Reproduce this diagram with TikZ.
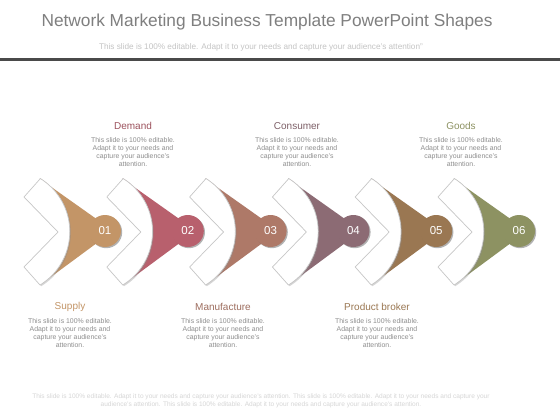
\documentclass[tikz,border=0pt]{standalone}
\usepackage{fontspec}
\setmainfont{Liberation Sans}
\usetikzlibrary{shadows}
\definecolor{c1}{HTML}{C39567}
\definecolor{c2}{HTML}{B8606D}
\definecolor{c3}{HTML}{AE7968}
\definecolor{c4}{HTML}{8C6B74}
\definecolor{c5}{HTML}{9A7752}
\definecolor{c6}{HTML}{8D9262}
\definecolor{titlegray}{HTML}{7F7F7F}
\definecolor{subgray}{HTML}{C4C4C4}
\definecolor{bodygray}{HTML}{8E8E8E}
\definecolor{footgray}{HTML}{D6D6D6}
\definecolor{rulegray}{HTML}{4A4A4A}
\tikzset{
  chev/.style={fill=white, draw=black!22, line width=0.7pt, line join=round,
    drop shadow={shadow xshift=1.2pt, shadow yshift=-1.2pt, opacity=0.35, fill=black!45}},
  numcirc/.style={circle, minimum size=32pt, inner sep=0pt, text=white,
    font=\fontsize{11.5}{12}\selectfont,
    drop shadow={shadow xshift=1.2pt, shadow yshift=-1.2pt, opacity=0.5, fill=black!60}},
  headtxt/.style={font=\fontsize{10}{12}\selectfont, inner sep=0pt},
  bodytxt/.style={font=\fontsize{6.9}{8.3}\selectfont, text=bodygray, align=center, inner sep=0pt},
}
\begin{document}
\begin{tikzpicture}[x=1pt,y=-1pt]
\useasboundingbox[fill=white] (0,0) rectangle (560,420);
% header
\node[font=\fontsize{17.3}{20}\selectfont, text=titlegray, inner sep=0pt] (title) at (267,22) {Network Marketing Business Template PowerPoint Shapes};
\node[font=\fontsize{8.2}{9}\selectfont, text=subgray, inner sep=0pt] (subtitle) at (261,47) {This slide is 100\% editable. Adapt it to your needs and capture your audience's attention''};
\fill[rulegray] (0,58) rectangle (560,61);
% units
\foreach \k/\col/\num in {0/c1/01,1/c2/02,2/c3/03,3/c4/04,4/c5/05,5/c6/06}{
  \begin{scope}[xshift=\k*82.8pt]
    \fill[\col] (40,179) -- (105,225) -- (105,237) -- (40,285)
      arc[start angle=58.3, end angle=-58.3, radius=62.7] -- cycle;
    \path[chev] (40,179) -- (24,197) -- (58,232) -- (24,267) -- (40,285)
      arc[start angle=58.3, end angle=-58.3, radius=62.7] -- cycle;
    \node[numcirc, fill=\col] (n\num) at (105,231) {\num};
  \end{scope}
}
% top labels
\node[headtxt, text=c2!85!black] (hdemand) at (133,126) {Demand};
\node[bodytxt] (bdemand) at (133,152) {This slide is 100\% editable.\\Adapt it to your needs and\\capture your audience's\\attention.};
\node[headtxt, text=c4!90!black] (hconsumer) at (297,126) {Consumer};
\node[bodytxt] (bconsumer) at (297,152) {This slide is 100\% editable.\\Adapt it to your needs and\\capture your audience's\\attention.};
\node[headtxt, text=c6] (hgoods) at (461,126) {Goods};
\node[bodytxt] (bgoods) at (461,152) {This slide is 100\% editable.\\Adapt it to your needs and\\capture your audience's\\attention.};
% bottom labels
\node[headtxt, text=c1] (hsupply) at (70,307) {Supply};
\node[bodytxt] (bsupply) at (70,333) {This slide is 100\% editable.\\Adapt it to your needs and\\capture your audience's\\attention.};
\node[headtxt, text=c3!90!black] (hmanu) at (223,307) {Manufacture};
\node[bodytxt] (bmanu) at (223,333) {This slide is 100\% editable.\\Adapt it to your needs and\\capture your audience's\\attention.};
\node[headtxt, text=c5] (hbroker) at (377,307) {Product broker};
\node[bodytxt] (bbroker) at (377,333) {This slide is 100\% editable.\\Adapt it to your needs and\\capture your audience's\\attention.};
% footer
\node[font=\fontsize{6.55}{8.3}\selectfont, text=footgray, align=center, inner sep=0pt] (footer) at (261,401) {This slide is 100\% editable. Adapt it to your needs and capture your audience's attention. This slide is 100\% editable. Adapt it to your needs and capture your\\audience's attention. This slide is 100\% editable. Adapt it to your needs and capture your audience's attention.};
\end{tikzpicture}
\end{document}
